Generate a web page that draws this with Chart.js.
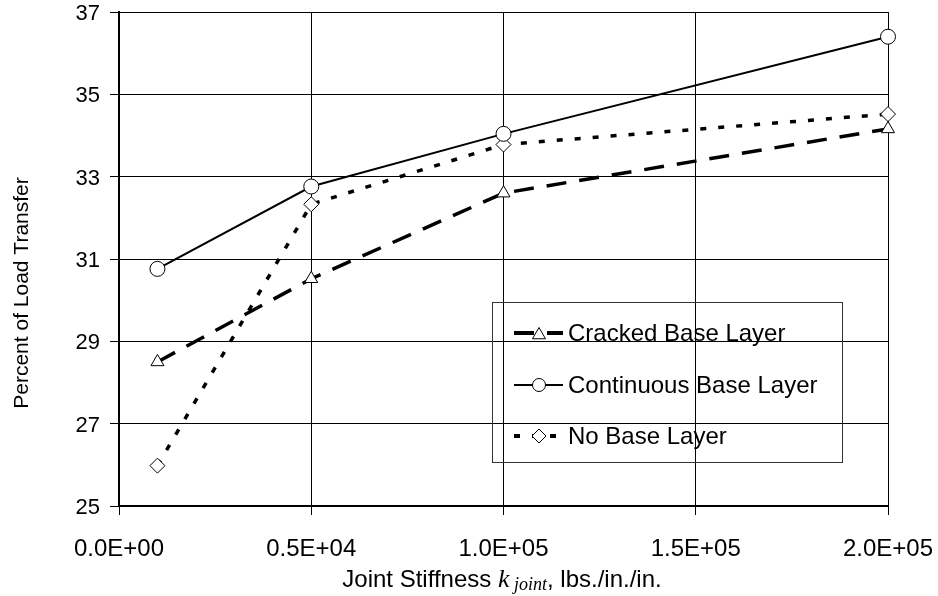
<!DOCTYPE html>
<html>
<head>
<meta charset="utf-8">
<title>Percent of Load Transfer</title>
<script src="https://cdn.jsdelivr.net/npm/chart.js@4.4.0/dist/chart.umd.min.js"></script>
<style>
  html, body { margin: 0; padding: 0; background: #fff; }
  #wrap { width: 938px; height: 596px; position: relative; }
</style>
</head>
<body>
<div id="wrap"><canvas id="myChart"></canvas></div>
<script>
// joint stiffness, lbs./in./in.
var xValues = [10000, 50000, 100000, 200000];
var xTickLabels = ['0.0E+00', '0.5E+04', '1.0E+05', '1.5E+05', '2.0E+05'];

var seriesNames = ['Cracked Base Layer', 'Continuous Base Layer', 'No Base Layer'];
var cracked = [28.5, 30.52, 32.6, 34.16];
var continuous = [30.76, 32.76, 34.04, 36.4];
var noBase = [25.98, 32.33, 33.78, 34.52];

var SANS = '"Liberation Sans", Arial, sans-serif';
var SERIF = '"Liberation Serif", "Times New Roman", serif';

function points(ys){
  var out = [];
  for (var i = 0; i < xValues.length; i++) {
    out.push({x: xValues[i], y: ys[i]});
  }
  return out;
}

var styles = [
  {shape: 'triangle', width: 3.5, dash: [20, 13], legendR: 7.5},
  {shape: 'circle', width: 2, dash: [], legendR: 6.5},
  {shape: 'rectRot', width: 3.5, dash: [6, 12], legendR: 7}
];

function marker(ctx, shape, x, y, r){
  ctx.save();
  ctx.setLineDash([]);
  ctx.lineWidth = 1;
  ctx.strokeStyle = '#000';
  ctx.fillStyle = '#fff';
  ctx.beginPath();
  if (shape == 'circle') {
    ctx.arc(x, y, r, 0, Math.PI * 2);
  } else if (shape == 'triangle') {
    ctx.moveTo(x, y - r);
    ctx.lineTo(x + r * 0.866, y + r / 2);
    ctx.lineTo(x - r * 0.866, y + r / 2);
    ctx.closePath();
  } else {
    ctx.moveTo(x - r, y);
    ctx.lineTo(x, y - r);
    ctx.lineTo(x + r, y);
    ctx.lineTo(x, y + r);
    ctx.closePath();
  }
  ctx.fill();
  ctx.stroke();
  ctx.restore();
}

// boxed legend sitting inside the plot, plus both axis titles
var extras = {
  id: 'extras',
  afterDatasetsDraw: function(chart){
    var ctx = chart.ctx;
    ctx.save();

    ctx.strokeStyle = '#333';
    ctx.lineWidth = 1;
    ctx.strokeRect(492.5, 302.5, 350, 160);

    var rows = [333, 385, 436];
    for (var i = 0; i < seriesNames.length; i++) {
      var st = styles[i];
      var y = rows[i];
      ctx.save();
      ctx.strokeStyle = '#000';
      ctx.lineWidth = st.width + (i == 1 ? 0 : 0.5);
      ctx.setLineDash(st.dash);
      ctx.beginPath();
      ctx.moveTo(514, y);
      ctx.lineTo(563, y);
      ctx.stroke();
      ctx.restore();
      marker(ctx, st.shape, 539, y + (st.shape == 'triangle' ? 2 : 0), st.legendR);

      ctx.fillStyle = '#000';
      ctx.font = '24px ' + SANS;
      ctx.textBaseline = 'middle';
      ctx.textAlign = 'left';
      ctx.fillText(seriesNames[i], 568, y + 1);
    }

    // y title
    ctx.save();
    ctx.translate(22, 293);
    ctx.rotate(-Math.PI / 2);
    ctx.font = '21px ' + SANS;
    ctx.textAlign = 'center';
    ctx.textBaseline = 'middle';
    ctx.fillStyle = '#000';
    ctx.fillText('Percent of Load Transfer', 0, 0);
    ctx.restore();

    // x title with italic k and subscript
    var parts = [
      {t: 'Joint Stiffness ', f: '24px ' + SANS, dy: 0},
      {t: 'k', f: 'italic 26px ' + SERIF, dy: 0},
      {t: ' joint', f: 'italic 18px ' + SERIF, dy: 3},
      {t: ', lbs./in./in.', f: '24px ' + SANS, dy: 0}
    ];
    var total = 0;
    parts.forEach(function(p){ ctx.font = p.f; p.w = ctx.measureText(p.t).width; total += p.w; });
    var x = 502 - total / 2;
    ctx.textAlign = 'left';
    ctx.textBaseline = 'alphabetic';
    ctx.fillStyle = '#000';
    parts.forEach(function(p){
      ctx.font = p.f;
      ctx.fillText(p.t, x, 587 + p.dy);
      x += p.w;
    });

    ctx.restore();
  }
};

var datasets = [cracked, continuous, noBase].map(function(ys, i){
  return {
    label: seriesNames[i],
    data: points(ys),
    borderColor: '#000',
    borderWidth: styles[i].width,
    borderDash: styles[i].dash,
    borderCapStyle: 'butt',
    tension: 0,
    fill: false,
    clip: false,
    pointStyle: styles[i].shape,
    pointRadius: 7.5,
    pointBorderWidth: 1,
    pointBorderColor: '#000',
    pointBackgroundColor: '#fff'
  };
});

var ctx = document.getElementById('myChart');
var chart = new Chart(ctx, {
  type: 'line',
  data: {datasets: datasets},
  plugins: [extras],
  options: {
    responsive: true,
    maintainAspectRatio: false,
    animation: false,
    layout: {padding: {top: 12, right: 50, left: 0, bottom: 0}},
    plugins: {
      legend: {display: false},
      tooltip: {enabled: false}
    },
    scales: {
      x: {
        type: 'linear',
        min: 0,
        max: 200000,
        afterFit: function(scale){
          scale.height = 90;
          scale.paddingLeft = 0;
          scale.paddingRight = 0;
        },
        ticks: {
          stepSize: 50000,
          color: '#000',
          padding: 20,
          maxRotation: 0,
          autoSkip: false,
          font: {family: SANS, size: 24},
          callback: function(v, i){ return xTickLabels[i]; }
        },
        grid: {color: '#000', lineWidth: 1, tickLength: 9},
        border: {color: '#000', width: 2}
      },
      y: {
        min: 25,
        max: 37,
        afterFit: function(scale){
          scale.width = 119;
          scale.paddingTop = 0;
          scale.paddingBottom = 0;
        },
        ticks: {
          stepSize: 2,
          color: '#000',
          padding: 10,
          labelOffset: 2,
          font: {family: SANS, size: 22}
        },
        grid: {color: '#000', lineWidth: 1, tickLength: 9},
        border: {color: '#000', width: 2}
      }
    }
  }
});
</script>
</body>
</html>
